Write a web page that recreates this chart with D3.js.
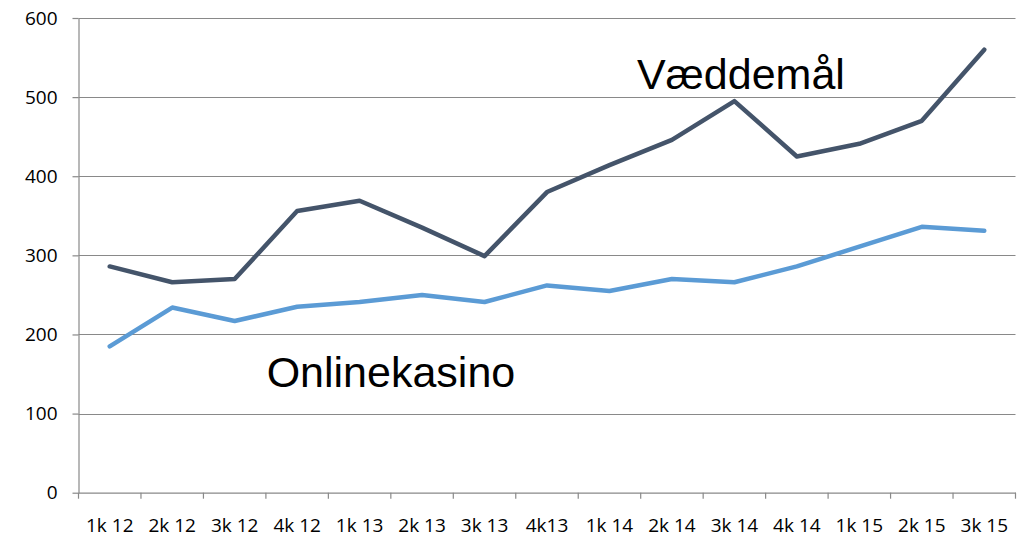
<!DOCTYPE html>
<html>
<head>
<meta charset="utf-8">
<script src="https://cdn.jsdelivr.net/npm/d3@7"></script>
<style>
  body { margin: 0; background: #fff; }
  svg { display: block; }
  .tick-label { font-family: "Open Sans", sans-serif; font-size: 19px; fill: #000; }
  .series-label { font-family: "Liberation Sans", Arial, sans-serif; font-size: 43px; fill: #000; }
</style>
</head>
<body>
<div id="plot"></div>
<script>
    // Quarters on the x axis
    const categories = ['1k 12', '2k 12', '3k 12', '4k 12', '1k 13', '2k 13', '3k 13', '4k13',
        '1k 14', '2k 14', '3k 14', '4k 14', '1k 15', '2k 15', '3k 15'];

    // Series values
    const vaeddemaal = [286, 266, 270, 356, 369, 335, 299, 380, 414, 446, 495, 425, 441, 470, 560];
    const onlinekasino = [185, 234, 217, 235, 241, 250, 241, 262, 255, 270, 266, 286, 311, 336, 331];

    // y axis ticks
    const yTicks = [0, 100, 200, 300, 400, 500, 600];

    const svgWidth = 1024;
    const svgHeight = 537;
    const margin = { top: 18, right: 8.5, bottom: 44.3, left: 78.5 };

    const svg = d3.select('#plot')
        .append('svg')
        .attr('width', svgWidth)
        .attr('height', svgHeight);

    const xScale = d3.scaleBand()
        .domain(categories)
        .range([margin.left, svgWidth - margin.right])
        .padding(0);

    const yScale = d3.scaleLinear()
        .domain([0, 600])
        .range([svgHeight - margin.bottom, margin.top]);

    const bottom = yScale(0);
    const axisColor = '#898989';

    // horizontal grid lines
    svg.append('g')
        .selectAll('line')
        .data(yTicks.filter(d => d > 0))
        .enter()
        .append('line')
        .attr('x1', margin.left)
        .attr('x2', svgWidth - margin.right)
        .attr('y1', d => Math.round(yScale(d)) + 0.5)
        .attr('y2', d => Math.round(yScale(d)) + 0.5)
        .attr('stroke', axisColor)
        .attr('stroke-width', 1.2);

    // Y axis
    const yAxis = svg.append('g')
        .attr('transform', `translate(${margin.left}, 0)`)
        .call(d3.axisLeft(yScale).tickValues(yTicks).tickSize(6).tickPadding(15).tickSizeOuter(0));
    yAxis.select('.domain').attr('stroke', axisColor).attr('stroke-width', 1.2);
    yAxis.selectAll('line').attr('stroke', axisColor).attr('stroke-width', 1.2);
    yAxis.selectAll('text').attr('class', 'tick-label').attr('font-family', null).attr('font-size', null);

    // X axis: labels in band centres, tick marks at band edges
    const xAxis = svg.append('g')
        .attr('transform', `translate(0, ${bottom})`)
        .call(d3.axisBottom(xScale).tickSize(0).tickPadding(26).tickSizeOuter(0));
    xAxis.select('.domain').attr('stroke', axisColor).attr('stroke-width', 1.2);
    xAxis.selectAll('text').attr('class', 'tick-label').attr('font-family', null).attr('font-size', null);

    const edges = categories.map(c => xScale(c)).concat([xScale.range()[1]]);
    svg.append('g')
        .selectAll('line')
        .data(edges)
        .enter()
        .append('line')
        .attr('x1', d => d)
        .attr('x2', d => d)
        .attr('y1', bottom)
        .attr('y2', bottom + 6)
        .attr('stroke', axisColor)
        .attr('stroke-width', 1.2);

    // lines
    const line = d3.line()
        .x((d, i) => xScale(categories[i]) + xScale.bandwidth() / 2)
        .y(d => yScale(d));

    const series = [
        { name: 'Væddemål', values: vaeddemaal, color: '#44546A' },
        { name: 'Onlinekasino', values: onlinekasino, color: '#5B9BD5' }
    ];

    svg.selectAll('.series')
        .data(series)
        .enter()
        .append('path')
        .attr('class', 'series')
        .attr('d', d => line(d.values))
        .attr('fill', 'none')
        .attr('stroke', d => d.color)
        .attr('stroke-width', 4.5)
        .attr('stroke-linejoin', 'round')
        .attr('stroke-linecap', 'round');

    // series labels placed in data space
    const labels = [
        { text: 'Væddemål', cat: '2k 14', dx: -35, value: 510 },
        { text: 'Onlinekasino', cat: '3k 12', dx: 32, value: 134 }
    ];

    svg.selectAll('.series-label')
        .data(labels)
        .enter()
        .append('text')
        .attr('class', 'series-label')
        .attr('x', d => xScale(d.cat) + xScale.bandwidth() / 2 + d.dx)
        .attr('y', d => yScale(d.value))
        .text(d => d.text);
</script>
</body>
</html>
